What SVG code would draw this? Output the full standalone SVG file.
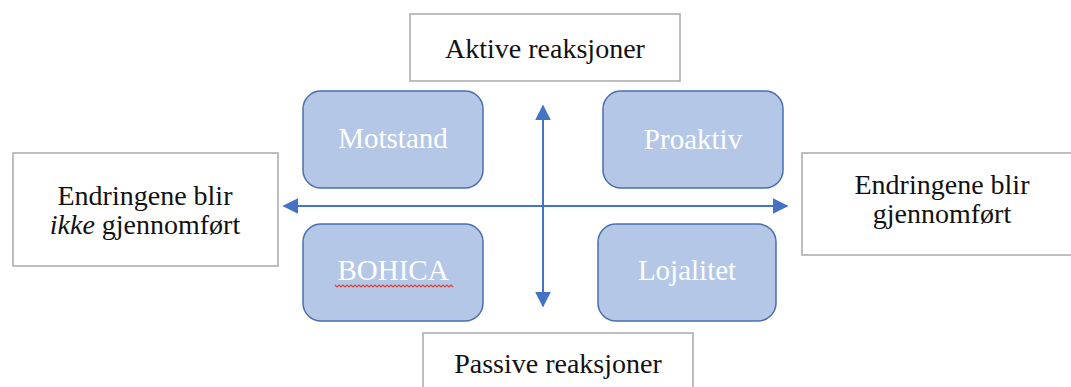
<svg xmlns="http://www.w3.org/2000/svg" width="1071" height="387" viewBox="0 0 1071 387">
<style>
.tb{fill:#fff;stroke:#a9a9a9;stroke-width:1.5}
.nd{fill:#b4c7e7;stroke:#4a6fae;stroke-width:1.5}
.t{font-family:"Liberation Serif","Times New Roman",serif;font-size:28px;fill:#111;text-anchor:middle}
.w{font-family:"Liberation Serif","Times New Roman",serif;font-size:29px;fill:#fff;text-anchor:middle}
.ln{stroke:#4472c4;stroke-width:2;fill:none}
</style>
<defs>
<marker id="ah2" viewBox="0 0 10 10" refX="9" refY="5" markerWidth="16" markerHeight="16" markerUnits="userSpaceOnUse" orient="auto-start-reverse">
<path d="M0,0 L10,5 L0,10 z" fill="#4472c4"/>
</marker>
</defs>
<g id="connectors">
<line class="ln" x1="284" y1="206" x2="787" y2="206" marker-start="url(#ah2)" marker-end="url(#ah2)"/>
<line class="ln" x1="543" y1="106" x2="543" y2="306" marker-start="url(#ah2)" marker-end="url(#ah2)"/>
</g>
<g id="aktive">
<rect class="tb" x="410" y="14" width="270" height="67"/>
<text class="t" x="545" y="58" font-size="29">Aktive reaksjoner</text>
</g>
<g id="passive">
<rect class="tb" x="423" y="333" width="270" height="67"/>
<text class="t" x="558" y="373" font-size="29">Passive reaksjoner</text>
</g>
<g id="ikke">
<rect class="tb" x="13" y="153" width="265" height="113"/>
<text class="t" x="145" y="205">Endringene blir</text>
<text class="t" x="145" y="234"><tspan font-style="italic">ikke</tspan> gjennomført</text>
</g>
<g id="gjennomfort">
<rect class="tb" x="802" y="153" width="280" height="102"/>
<text class="t" x="942" y="194">Endringene blir</text>
<text class="t" x="942" y="223">gjennomført</text>
</g>
<g id="motstand">
<rect class="nd" x="303" y="91" width="180" height="97" rx="18"/>
<text class="w" x="393" y="148">Motstand</text>
</g>
<g id="proaktiv">
<rect class="nd" x="603" y="91" width="180" height="97" rx="18"/>
<text class="w" x="693" y="149">Proaktiv</text>
</g>
<g id="bohica">
<rect class="nd" x="303" y="224" width="180" height="97" rx="18"/>
<text class="w" x="393" y="280">BOHICA</text>
<polyline points="335,285 337,287 339,285 341,287 343,285 345,287 347,285 349,287 351,285 353,287 355,285 357,287 359,285 361,287 363,285 365,287 367,285 369,287 371,285 373,287 375,285 377,287 379,285 381,287 383,285 385,287 387,285 389,287 391,285 393,287 395,285 397,287 399,285 401,287 403,285 405,287 407,285 409,287 411,285 413,287 415,285 417,287 419,285 421,287 423,285 425,287 427,285 429,287 431,285 433,287 435,285 437,287 439,285 441,287 443,285 445,287 447,285 449,287 451,285 453,287" fill="none" stroke="#e0443a" stroke-width="1.2"/>
</g>
<g id="lojalitet">
<rect class="nd" x="598" y="224" width="178" height="97" rx="18"/>
<text class="w" x="687" y="280">Lojalitet</text>
</g>
</svg>
